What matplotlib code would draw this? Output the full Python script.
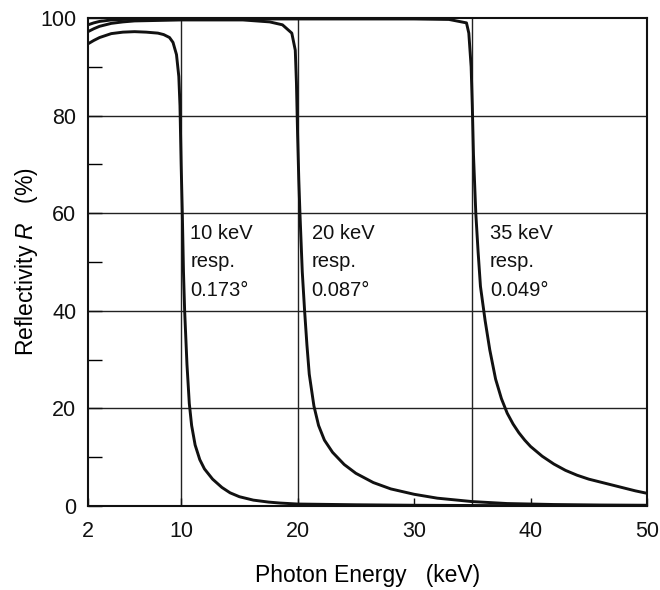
import matplotlib.pyplot as plt

plt.rcParams['font.family'] = ['Liberation Sans', 'DejaVu Sans']
plt.rcParams['mathtext.fontset'] = 'custom'
plt.rcParams['mathtext.it'] = 'Liberation Sans:italic'
plt.rcParams['mathtext.rm'] = 'Liberation Sans'

# 10 keV curve (0.173 deg)
e1 = [2, 2.5, 3, 4, 5, 6, 7, 8, 8.5, 9, 9.3, 9.6, 9.8, 9.9, 10.0, 10.1, 10.2,
      10.3, 10.5, 10.7, 10.9, 11.2, 11.6, 12.0, 12.7, 13.5, 14.2, 15.0, 16.2,
      17.5, 18.5, 20, 25, 30, 35, 40, 50]
r1 = [94.7, 95.4, 96.0, 96.8, 97.1, 97.2, 97.1, 96.9, 96.6, 96.0, 95.0, 92.5,
      88, 82, 70, 60, 48, 40, 29, 21, 16.5, 12.5, 9.5, 7.6, 5.5, 3.8, 2.7, 1.9,
      1.2, 0.8, 0.6, 0.4, 0.25, 0.15, 0.1, 0.05, 0.0]

# 20 keV curve (0.087 deg)
e2 = [2, 2.5, 3, 4, 5, 6, 8, 10, 15.3, 17.6, 18.7, 19.5, 19.8, 19.9, 20.0,
      20.1, 20.2, 20.4, 20.6, 20.8, 21.0, 21.4, 21.8, 22.3, 23, 24, 25, 26.5,
      28, 30, 32, 35, 38, 42, 46, 50]
r2 = [97.2, 97.8, 98.3, 98.9, 99.2, 99.4, 99.5, 99.6, 99.6, 99.2, 98.6, 96.9,
      93.4, 86.7, 76, 67, 60, 48, 40, 33, 27, 20.5, 16.5, 13.5, 11, 8.5, 6.7,
      4.8, 3.5, 2.4, 1.6, 0.9, 0.5, 0.3, 0.2, 0.15]

# 35 keV curve (0.049 deg)
e3 = [2, 2.5, 3, 4, 6, 10, 20, 30, 33, 34.5, 34.7, 34.9, 35.0, 35.1, 35.3,
      35.5, 35.7, 36.1, 36.5, 37.0, 37.5, 38, 38.5, 39, 39.5, 40, 41, 42, 43,
      44, 45, 46, 47, 48, 49, 50]
r3 = [98.6, 99.0, 99.3, 99.6, 99.8, 99.8, 99.8, 99.8, 99.7, 99.0, 96.9, 90,
      82, 72, 60, 52, 45, 38, 32, 26, 22, 19, 16.8, 15.0, 13.5, 12.2, 10.2,
      8.6, 7.3, 6.3, 5.5, 4.9, 4.3, 3.7, 3.1, 2.6]

xticks = [2, 10, 20, 30, 40, 50]
yticks = [0, 20, 40, 60, 80, 100]
yminor = [10, 30, 50, 70, 90]
grid_x = [10, 20, 35]
grid_y = [20, 40, 60, 80]

labels = ['10 keV\nresp.\n0.173°', '20 keV\nresp.\n0.087°', '35 keV\nresp.\n0.049°']
label_x = [10.8, 21.2, 36.5]

fig = plt.figure(figsize=(6.6, 5.9), dpi=100)
ax = fig.add_axes([0.1333, 0.1424, 0.847, 0.8271])

for gx in grid_x:
    ax.axvline(gx, color='#222222', lw=1.0, zorder=1)
for gy in grid_y:
    ax.axhline(gy, color='#222222', lw=1.0, zorder=1)

for e, r in [(e1, r1), (e2, r2), (e3, r3)]:
    ax.plot(e, r, color='#111111', lw=2.1, solid_joinstyle='round', zorder=3)

for lx, lab in zip(label_x, labels):
    ax.text(lx, 57.8, lab, fontsize=14.5, va='top', ha='left', linespacing=1.62,
            color='#111111')

ax.set_xlim(2, 50)
ax.set_ylim(0, 100)
ax.set_xticks(xticks)
ax.set_yticks(yticks)
ax.set_yticks(yminor, minor=True)
ax.tick_params(axis='both', which='major', direction='in', labelsize=15.5,
               length=6, width=1, colors='#111111')
ax.tick_params(axis='y', which='major', length=10, pad=8.5)
ax.tick_params(axis='y', which='minor', direction='in', length=10, width=1)
ax.tick_params(axis='x', which='major', pad=10.5)
for s in ax.spines.values():
    s.set_linewidth(1.5)
    s.set_color('#111111')

ax.set_xlabel('Photon Energy   (keV)', fontsize=16.5, labelpad=16)
ax.set_ylabel('Reflectivity $R$   (%)', fontsize=16.5, labelpad=0)

plt.savefig('out.png', dpi=100)
